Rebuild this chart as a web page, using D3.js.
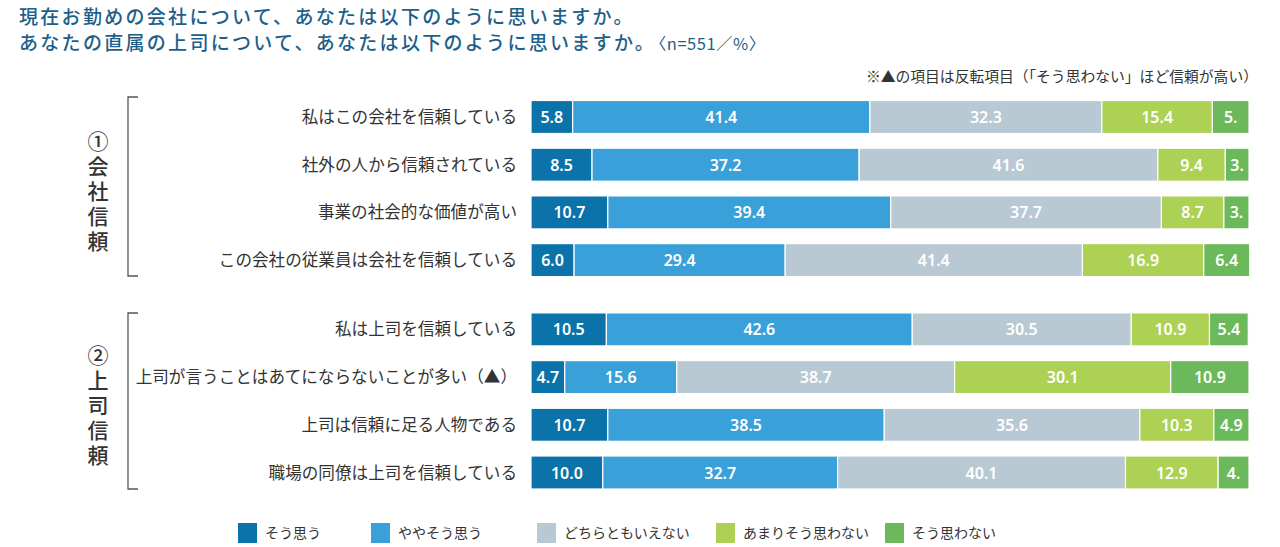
<!DOCTYPE html>
<html><head><meta charset="utf-8">
<script src="https://cdn.jsdelivr.net/npm/d3@7"></script>
<style>
body{margin:0;background:#fff;}
svg{display:block;}
</style></head>
<body><svg id="c" width="1280" height="547"></svg>
<script>
const categories = [
  "私はこの会社を信頼している",
  "社外の人から信頼されている",
  "事業の社会的な価値が高い",
  "この会社の従業員は会社を信頼している",
  "私は上司を信頼している",
  "上司が言うことはあてにならないことが多い（▲）",
  "上司は信頼に足る人物である",
  "職場の同僚は上司を信頼している"
];
const groupNames = ["①会社信頼","②上司信頼"];
const seriesNames = ["そう思う","ややそう思う","どちらともいえない","あまりそう思わない","そう思わない"];
const soOmou      = [5.8, 8.5, 10.7, 6.0, 10.5, 4.7, 10.7, 10.0];
const yayaSoOmou  = [41.4, 37.2, 39.4, 29.4, 42.6, 15.6, 38.5, 32.7];
const dochiraTomo = [32.3, 41.6, 37.7, 41.4, 30.5, 38.7, 35.6, 40.1];
const amariOmowanai = [15.4, 9.4, 8.7, 16.9, 10.9, 30.1, 10.3, 12.9];
const soOmowanai  = [5.1, 3.3, 3.5, 6.4, 5.4, 10.9, 4.9, 4.3];
// labels as printed (truncated in the original)
const lastLabels  = ["5.", "3.", "3.", "6.4", "5.4", "10.9", "4.9", "4."];
const colors = ["#0b73a9","#3aa0d9","#b8c9d3","#add155","#6cb95b"];

const series = [soOmou, yayaSoOmou, dochiraTomo, amariOmowanai, soOmowanai];
const svg = d3.select("#c");
const JP = "'Noto Sans CJK JP','Noto Sans',sans-serif";

// title
const title = svg.append("g").attr("font-family", JP).attr("fill","#1d5f8a").attr("font-weight",500);
title.append("text").attr("x",19).attr("y",24).attr("font-size",19).attr("letter-spacing",2.3)
  .text("現在お勤めの会社について、あなたは以下のように思いますか。");
const t2 = title.append("text").attr("x",19).attr("y",50).attr("font-size",19).attr("letter-spacing",2.3);
t2.append("tspan").text("あなたの直属の上司について、あなたは以下のように思いますか。");
t2.append("tspan").attr("font-size",16.5).attr("font-weight",400).attr("letter-spacing",0.5).attr("dx",2).text("〈n=551／%〉");

svg.append("text").attr("x",1258).attr("y",82).attr("text-anchor","end")
  .attr("font-family",JP).attr("font-size",14.8).attr("fill","#333")
  .text("※▲の項目は反転項目（「そう思わない」ほど信頼が高い）");

// scales
const x = d3.scaleLinear().domain([0,100]).range([531,1249]);
const rowCenters = [117,164.7,212.4,260.1,329.4,377.1,424.8,472.5];
const y = d3.scaleOrdinal().domain(d3.range(8)).range(rowCenters);
const barH = 33;

const rows = categories.map((c,i)=>{
  let acc=0;
  return series.map((s,k)=>{const seg={row:i,k,x0:acc,x1:acc+s[i],v:s[i]}; acc+=s[i]; return seg;});
});

const g = svg.append("g");
rows.forEach((segs,i)=>{
  const rg = g.append("g");
  rg.selectAll("rect").data(segs).join("rect")
    .attr("x",d=>x(d.x0)).attr("width",d=>x(d.x1)-x(d.x0))
    .attr("y",y(i)-barH/2).attr("height",barH)
    .attr("fill",d=>colors[d.k]).attr("stroke","#fff").attr("stroke-width",1.2);
  rg.selectAll("text").data(segs).join("text")
    .attr("x",d=>(x(d.x0)+x(d.x1))/2).attr("y",y(i)+6)
    .attr("text-anchor","middle").attr("fill","#fff")
    .attr("font-family","'Noto Sans',sans-serif").attr("font-weight",600).attr("font-size",16)
    .text(d=> d.k===4 ? lastLabels[i] : d.v.toFixed(1));
});

// category labels
svg.append("g").selectAll("text").data(categories).join("text")
  .attr("x",517).attr("y",(d,i)=>y(i)+6).attr("text-anchor","end")
  .attr("font-family",JP).attr("font-size",16.6).attr("fill","#333").text(d=>d);

// brackets & group labels
const groupRange = [[97,276],[313,489]];
groupRange.forEach(([a,b],gi)=>{
  svg.append("path").attr("d",`M138,${a}H128V${b}H138`).attr("fill","none").attr("stroke","#555").attr("stroke-width",1.3);
  const mid=(a+b)/2;
  svg.append("text").attr("x",98).attr("y",mid-56)
    .style("writing-mode","vertical-rl").attr("letter-spacing",4)
    .attr("font-family",JP).attr("font-size",21).attr("font-weight",500).attr("fill","#333")
    .text(groupNames[gi]);
});

// legend
const legX = [238,371,537,716,885];
const lg = svg.append("g").selectAll("g").data(seriesNames).join("g")
  .attr("transform",(d,i)=>`translate(${legX[i]},523)`);
lg.append("rect").attr("width",19).attr("height",20).attr("fill",(d,i)=>colors[i]);
lg.append("text").attr("x",27).attr("y",15).attr("font-family",JP).attr("font-size",14).attr("fill","#333").text(d=>d);
</script></body></html>
